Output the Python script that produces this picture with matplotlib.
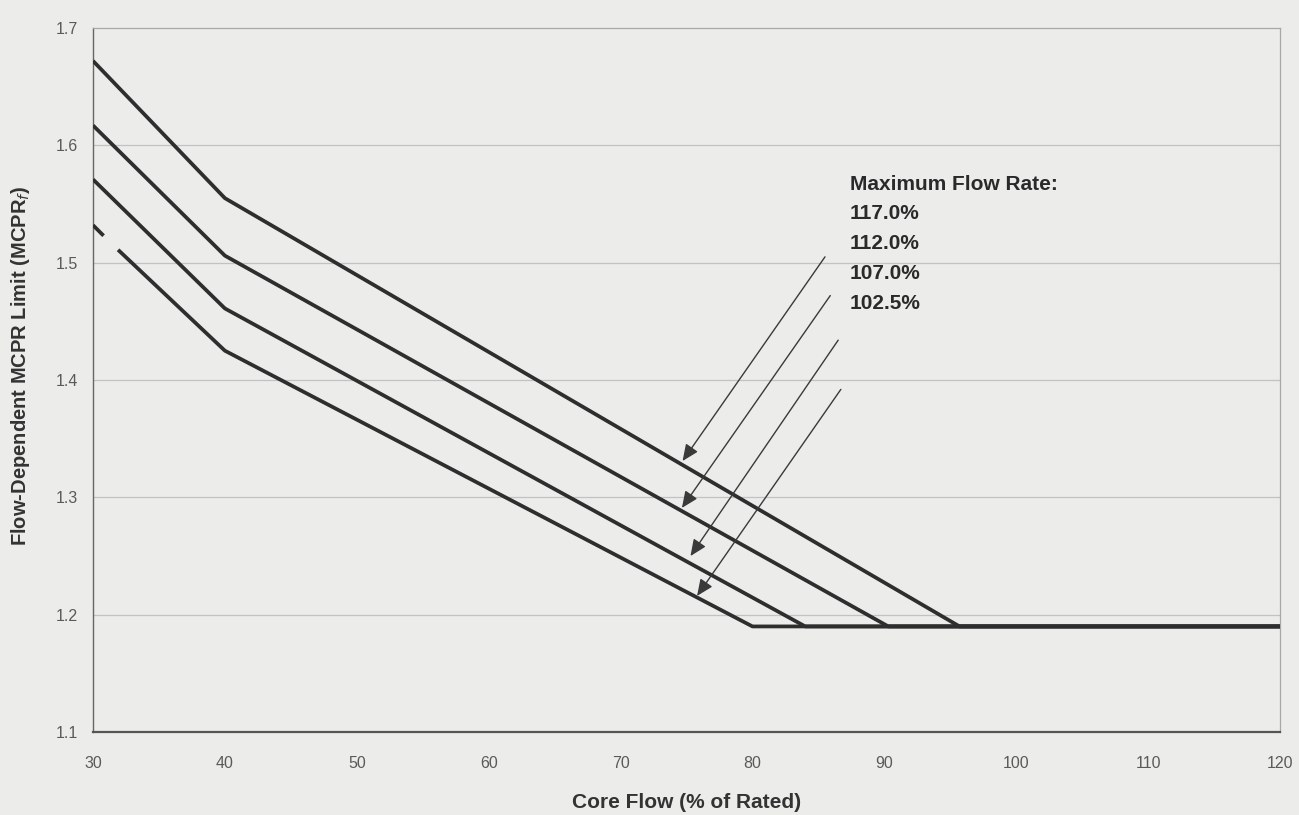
import numpy as np
import matplotlib
matplotlib.use("Agg")
import matplotlib.pyplot as plt

# ---- data ----
flow_117 = [30, 40, 95.7, 120]
mcpr_117 = [1.672, 1.555, 1.19, 1.19]
flow_112 = [30, 40, 90.3, 120]
mcpr_112 = [1.617, 1.506, 1.19, 1.19]
flow_107 = [30, 40, 84.0, 120]
mcpr_107 = [1.571, 1.461, 1.19, 1.19]
flow_1025 = [30, 30.8, np.nan, 31.9, 40, 80.0, 120]
mcpr_1025 = [1.532, 1.523, np.nan, 1.511, 1.425, 1.19, 1.19]

legend_title = "Maximum Flow Rate:"
legend_labels = ["117.0%", "112.0%", "107.0%", "102.5%"]
# arrow tails (text side) and heads (on curves)
arrow_tails = [(85.5, 1.505), (85.9, 1.472), (86.5, 1.434), (86.7, 1.392)]
arrow_heads = [(74.7, 1.331), (74.65, 1.291), (75.3, 1.250), (75.8, 1.216)]

xticks = [30, 40, 50, 60, 70, 80, 90, 100, 110, 120]
yticks = [1.1, 1.2, 1.3, 1.4, 1.5, 1.6, 1.7]
xlabel = "Core Flow (% of Rated)"
ylabel = "Flow-Dependent MCPR Limit (MCPR$_f$)"

bg = "#ececea"
plt.rcParams['font.family'] = ['Liberation Sans', 'DejaVu Sans']

fig = plt.figure(figsize=(12.99, 8.15), dpi=100, facecolor=bg)
ax = fig.add_axes([0.0716, 0.1018, 0.9138, 0.8638], facecolor=bg)

ax.set_xlim(30, 120)
ax.set_ylim(1.1, 1.7)

for v in yticks[1:-1]:
    ax.axhline(v, color="#c2c2c2", lw=0.9, zorder=1)

line_kw = dict(color="#2e2e2e", lw=2.7, solid_capstyle="butt", zorder=3)
ax.plot(flow_117, mcpr_117, **line_kw)
ax.plot(flow_112, mcpr_112, **line_kw)
ax.plot(flow_107, mcpr_107, **line_kw)
ax.plot(flow_1025, mcpr_1025, **line_kw)

for (tx, ty), (hx, hy) in zip(arrow_tails, arrow_heads):
    ax.annotate("", xy=(hx, hy), xytext=(tx, ty),
                arrowprops=dict(arrowstyle="-|>,head_length=0.5,head_width=0.22",
                                color="#3a3a3a", lw=1.0,
                                mutation_scale=20, shrinkA=0, shrinkB=0),
                zorder=4)

tx0 = 87.4
ty0 = 1.567
dy = 0.0254
ax.text(tx0, ty0, legend_title, fontsize=15, fontweight="bold",
        color="#2a2a2a", ha="left", va="center")
for i, lab in enumerate(legend_labels):
    ax.text(tx0, ty0 - dy * (i + 1), lab, fontsize=15, fontweight="bold",
            color="#2a2a2a", ha="left", va="center")

ax.set_xticks(xticks)
ax.set_yticks(yticks)
ax.set_xticklabels([str(t) for t in xticks])
ax.set_yticklabels([f"{t:.1f}" for t in yticks])
ax.tick_params(axis="both", length=0, labelsize=11.5, labelcolor="#5a5a5a")
ax.tick_params(axis="x", pad=17)
ax.tick_params(axis="y", pad=11)

for s in ["top", "right"]:
    ax.spines[s].set_color("#a8a8a8")
    ax.spines[s].set_linewidth(0.9)
ax.spines["left"].set_color("#666666")
ax.spines["left"].set_linewidth(1.0)
ax.spines["bottom"].set_color("#555555")
ax.spines["bottom"].set_linewidth(1.6)

ax.set_xlabel(xlabel, fontsize=15, fontweight="bold", color="#333333")
ax.set_ylabel(ylabel, fontsize=14.5, fontweight="bold", color="#333333")
ax.xaxis.set_label_coords(0.5, -0.086)
ax.yaxis.set_label_coords(-0.051, 0.52)

fig.savefig("out.png", dpi=100, facecolor=bg)
